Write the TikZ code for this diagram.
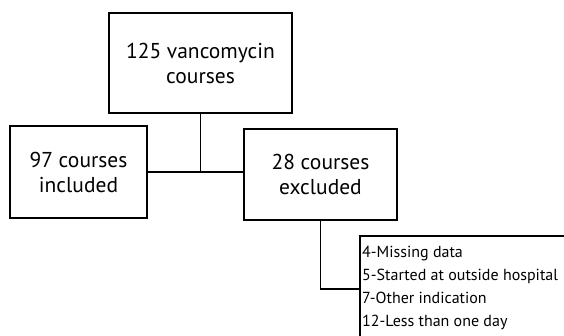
\documentclass[tikz,border=0pt]{standalone}
\usepackage{fontspec}
\setmainfont{PT Sans}
\begin{document}
\begin{tikzpicture}[x=1pt,y=-1pt,
  box/.style={draw, line width=1.2pt, align=center, inner sep=0pt, font=\fontsize{21.5}{25}\selectfont},
  conn/.style={line width=1.2pt},
  listtext/.style={align=left, inner sep=0pt, font=\fontsize{16}{23}\selectfont}]
\useasboundingbox (0,0) rectangle (564,336);
\clip (0,0) rectangle (564,336);
\node[box, minimum width=183pt, minimum height=100pt] (top) at (200.5,63) {125 vancomycin\\courses};
\node[box, minimum width=137pt, minimum height=92pt] (inc) at (78.5,172) {97 courses\\included};
\node[box, minimum width=153pt, minimum height=91pt] (exc) at (320.5,174.5) {28 courses\\excluded};
\coordinate (ltl) at (360,236);
\coordinate (lbl) at (360,350);
\coordinate (ltr) at (580,236);
\coordinate (j) at (360,289);
\draw[conn] (lbl) -- (ltl) -- (ltr);
\node[listtext, anchor=west] (list) at (362,288) {4-Missing data\\5-Started at outside hospital\\7-Other indication\\12-Less than one day};
\draw[conn] (top.south) -- (top.south |- inc.east);
\draw[conn] (inc.east) -- (inc.east -| exc.west);
\draw[conn] (exc.south) |- (j);
\end{tikzpicture}
\end{document}
